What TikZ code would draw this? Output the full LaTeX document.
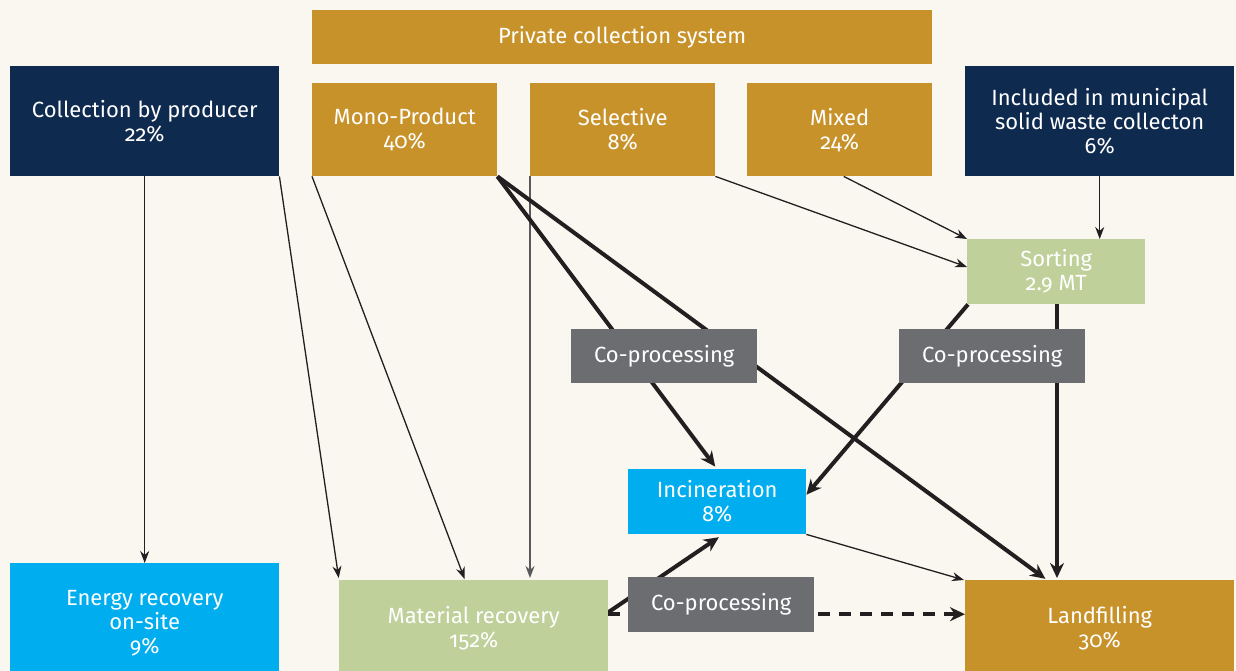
\documentclass[tikz,border=0pt]{standalone}
\usepackage{fontspec}
\setmainfont{Fira Sans}[Numbers=OldStyle]
\usetikzlibrary{arrows.meta}
\definecolor{paper}{HTML}{FAF7F0}
\definecolor{gold}{HTML}{C8922B}
\definecolor{navy}{HTML}{0F2A4F}
\definecolor{sage}{HTML}{BFD09A}
\definecolor{sky}{HTML}{00AEEF}
\definecolor{slate}{HTML}{6C6D71}
\definecolor{ink}{HTML}{231F20}
\definecolor{rule}{HTML}{5A5A5C}
\pgfdeclarelayer{back}
\pgfdeclarelayer{lines}
\pgfsetlayers{back,lines,main}
\tikzset{
  box/.style={rectangle, inner sep=0pt, anchor=north west, text=white, align=center,
    font=\fontsize{22}{24}\selectfont},
  thin/.style={draw=ink, line width=1.3pt, -{Stealth[length=12pt,width=9pt]}},
  thick/.style={draw=ink, line width=4pt, -{Stealth[length=15pt,width=14pt]}},
}
\begin{document}
\begin{tikzpicture}[x=1pt,y=-1pt]
\begin{pgfonlayer}{back}
  \fill[paper] (0,0) rectangle (1236,671);
\end{pgfonlayer}
\useasboundingbox (0,0) rectangle (1236,671);
\clip (0,0) rectangle (1236,671);

% collection channels
\node[box, fill=gold, minimum width=620pt, minimum height=54pt] (priv) at (312,10) {Private collection system};
\node[box, fill=navy, minimum width=269pt, minimum height=110pt] (prod) at (10,66) {Collection by producer\\22\%};
\node[box, fill=gold, minimum width=185pt, minimum height=93pt] (mono) at (312,83) {Mono-Product\\40\%};
\node[box, fill=gold, minimum width=185pt, minimum height=93pt] (sel) at (530,83) {Selective\\8\%};
\node[box, fill=gold, minimum width=185pt, minimum height=93pt] (mix) at (747,83) {Mixed\\24\%};
\node[box, fill=navy, minimum width=269pt, minimum height=110pt] (muni) at (965,66) {Included in municipal\\solid waste collecton\\6\%};

% treatment steps
\node[box, fill=sage, minimum width=178pt, minimum height=65pt] (sort) at (967,239) {Sorting\\2.9 MT};
\node[box, fill=slate, minimum width=186pt, minimum height=54pt] (cpa) at (571,329) {Co-processing};
\node[box, fill=slate, minimum width=186pt, minimum height=54pt] (cpb) at (899,329) {Co-processing};
\node[box, fill=sky, minimum width=178pt, minimum height=65pt] (inc) at (628,469) {Incineration\\8\%};
\node[box, fill=slate, minimum width=186pt, minimum height=55pt] (cpc) at (628,577) {Co-processing};

% destinations
\node[box, fill=sky, minimum width=269pt, minimum height=120pt] (energy) at (10,563) {Energy recovery\\on-site\\9\%};
\node[box, fill=sage, minimum width=269pt, minimum height=96pt] (mat) at (339,580) {Material recovery\\152\%};
\node[box, fill=gold, minimum width=269pt, minimum height=96pt] (land) at (965,580) {Landfilling\\30\%};

\begin{pgfonlayer}{lines}
  \draw[thin] (prod.south) -- (energy.north);
  \draw[thin, shorten >=2pt] (prod.south east) -- (mat.north west);
  \draw[thin, shorten >=1pt] (mono.south west) -- ([xshift=126pt]mat.north west);
  \draw[thin, draw=rule, -{Stealth[length=12pt,width=9pt]}, shorten >=2pt] (sel.south west) -- (sel.south west |- mat.north);
  \draw[thin] (sel.south east) -- ([yshift=-28pt]sort.north west);
  \draw[thin] ([xshift=4pt]mix.south) -- (sort.north west);
  \draw[thin] (muni.south) -- (muni.south |- sort.north);
  \draw[thick, shorten >=3pt] (mono.south east) -- ([xshift=89pt]inc.north west);
  \draw[thick, shorten >=2pt] (mono.south east) -- ([xshift=82pt]land.north west);
  \draw[thick] ([xshift=1pt]sort.south west) -- ([yshift=7pt]inc.east);
  \draw[thick, shorten >=2pt] ([xshift=90pt]sort.south west) -- ([xshift=90pt]sort.south west |- land.north);
  \draw[thin] (inc.south east) -- ([xshift=-1pt]land.north west);
  \draw[thick, shorten >=5pt] ([yshift=16pt]mat.east) -- ([xshift=95pt]inc.south west);
  \draw[thick, dash pattern=on 12pt off 9pt] ([yshift=14pt]mat.east) -- ([yshift=14pt]land.west);
\end{pgfonlayer}
\end{tikzpicture}
\end{document}
